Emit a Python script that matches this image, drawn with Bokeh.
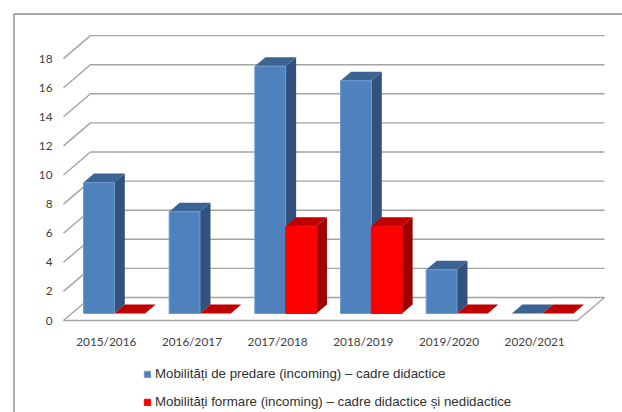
from bokeh.plotting import figure
from bokeh.models import (LinearAxis, FixedTicker, Range1d, Legend, LegendItem)
from bokeh.embed import file_html
from bokeh.resources import INLINE

categories = ["2015/2016", "2016/2017", "2017/2018", "2018/2019", "2019/2020", "2020/2021"]
predare = [9, 7, 17, 16, 3, 0]
formare = [0, 0, 6, 6, 0, 0]
y_ticks = [0, 2, 4, 6, 8, 10, 12, 14, 16, 18]
name_predare = "Mobilități de predare (incoming) – cadre didactice"
name_formare = "Mobilități formare (incoming) – cadre didactice și nedidactice"

W, H = 622, 412
PX = 85.67   # px per category
PY = 14.55   # px per unit
X0 = 105.8   # window px of first category centre
Y0 = 320.0   # window px of value 0 on front edge

def dx(px):  # px -> x data length
    return px / PX
def dy(px):
    return px / PY
def wx(px):  # window px -> x data
    return (px - X0) / PX
def wy(py):
    return (Y0 - py) / PY

p = figure(width=W, height=H, output_backend="svg", toolbar_location=None,
           x_range=Range1d(wx(0), wx(W)), y_range=Range1d(wy(H), wy(0)),
           x_axis_type=None, y_axis_type=None, min_border=0, outline_line_color=None)
p.xgrid.visible = False
p.ygrid.visible = False

GRID = "#a3a3a3"
GW = 1.4
depth_x, depth_y = dx(27), dy(23)
left, right = -0.5, len(categories) - 0.5

# walls: gridlines
p.multi_line([[left, left + depth_x, right + depth_x] for t in y_ticks],
             [[t, t + depth_y, t + depth_y] for t in y_ticks],
             line_color=GRID, line_width=GW)
# floor front edges
p.line([left, right, right + depth_x], [0, 0, depth_y], line_color=GRID, line_width=GW)

# chart frame
FRAME = "#8a8a8a"
p.line([wx(13.5), wx(13.5)], [wy(H), wy(13.5)], line_color=FRAME, line_width=1.4)
p.line([wx(13.5), wx(W)], [wy(13.5), wy(13.5)], line_color=FRAME, line_width=1.4)

bar_w = 30.8 / PX
off_x, off_y = dx(8.0), dy(7)
bd_x, bd_y = dx(10.5), dy(9)

def series(values, shift, front, top, side, edge):
    l = [i - bar_w + off_x + shift * bar_w for i in range(len(values))]
    r = [a + bar_w for a in l]
    b = off_y
    tops = [v + off_y for v in values]
    keep = [k for k, v in enumerate(values) if v > 0]
    p.patches([[r[k], r[k] + bd_x, r[k] + bd_x, r[k]] for k in keep],
              [[b, b + bd_y, tops[k] + bd_y, tops[k]] for k in keep],
              fill_color=side, line_color=None)
    p.patches([[l[k], l[k] + bd_x, r[k] + bd_x, r[k]] for k in range(len(values))],
              [[tops[k], tops[k] + bd_y, tops[k] + bd_y, tops[k]] for k in range(len(values))],
              fill_color=top, line_color=None)
    return p.quad(left=[l[k] for k in keep], right=[r[k] for k in keep],
                  bottom=[b] * len(keep), top=[tops[k] for k in keep],
                  fill_color=front, line_color=edge, line_width=1)

r1 = series(predare, 0, "#4F81BD", "#3B6492", "#30527C", "#6E9BD3")
r2 = series(formare, 1, "#FF0000", "#C00000", "#9E0000", "#FF0000")

TXT = "#404040"
ya = LinearAxis(ticker=FixedTicker(ticks=y_ticks), fixed_location=wx(63))
ya.axis_line_color = None
ya.major_tick_line_color = None
ya.minor_tick_line_color = None
ya.major_tick_out = 0
ya.major_tick_in = 0
ya.major_label_standoff = 11
ya.major_label_text_font = "Lato"
ya.major_label_text_font_size = "11.8px"
ya.major_label_text_color = TXT
p.add_layout(ya, "left")

xa = LinearAxis(ticker=FixedTicker(ticks=list(range(len(categories)))), fixed_location=0,
                major_label_overrides={i: c for i, c in enumerate(categories)})
xa.axis_line_color = None
xa.major_tick_line_color = None
xa.minor_tick_line_color = None
xa.major_tick_out = 0
xa.major_tick_in = 0
xa.major_label_standoff = 13
xa.major_label_text_font = "Lato"
xa.major_label_text_font_size = "11.8px"
xa.major_label_text_color = TXT
p.add_layout(xa, "below")

legend = Legend(items=[LegendItem(label=name_predare, renderers=[r1]),
                       LegendItem(label=name_formare, renderers=[r2])],
                location=(143, 3), orientation="vertical",
                border_line_color=None, background_fill_alpha=0,
                glyph_width=8, glyph_height=8, label_standoff=4,
                label_text_font="Liberation Sans", label_text_font_size="13.3px",
                label_text_color="#303030", label_height=14, spacing=13,
                padding=0, margin=0)
p.add_layout(legend, "center")

open("out.html", "w").write(file_html(p, INLINE))
